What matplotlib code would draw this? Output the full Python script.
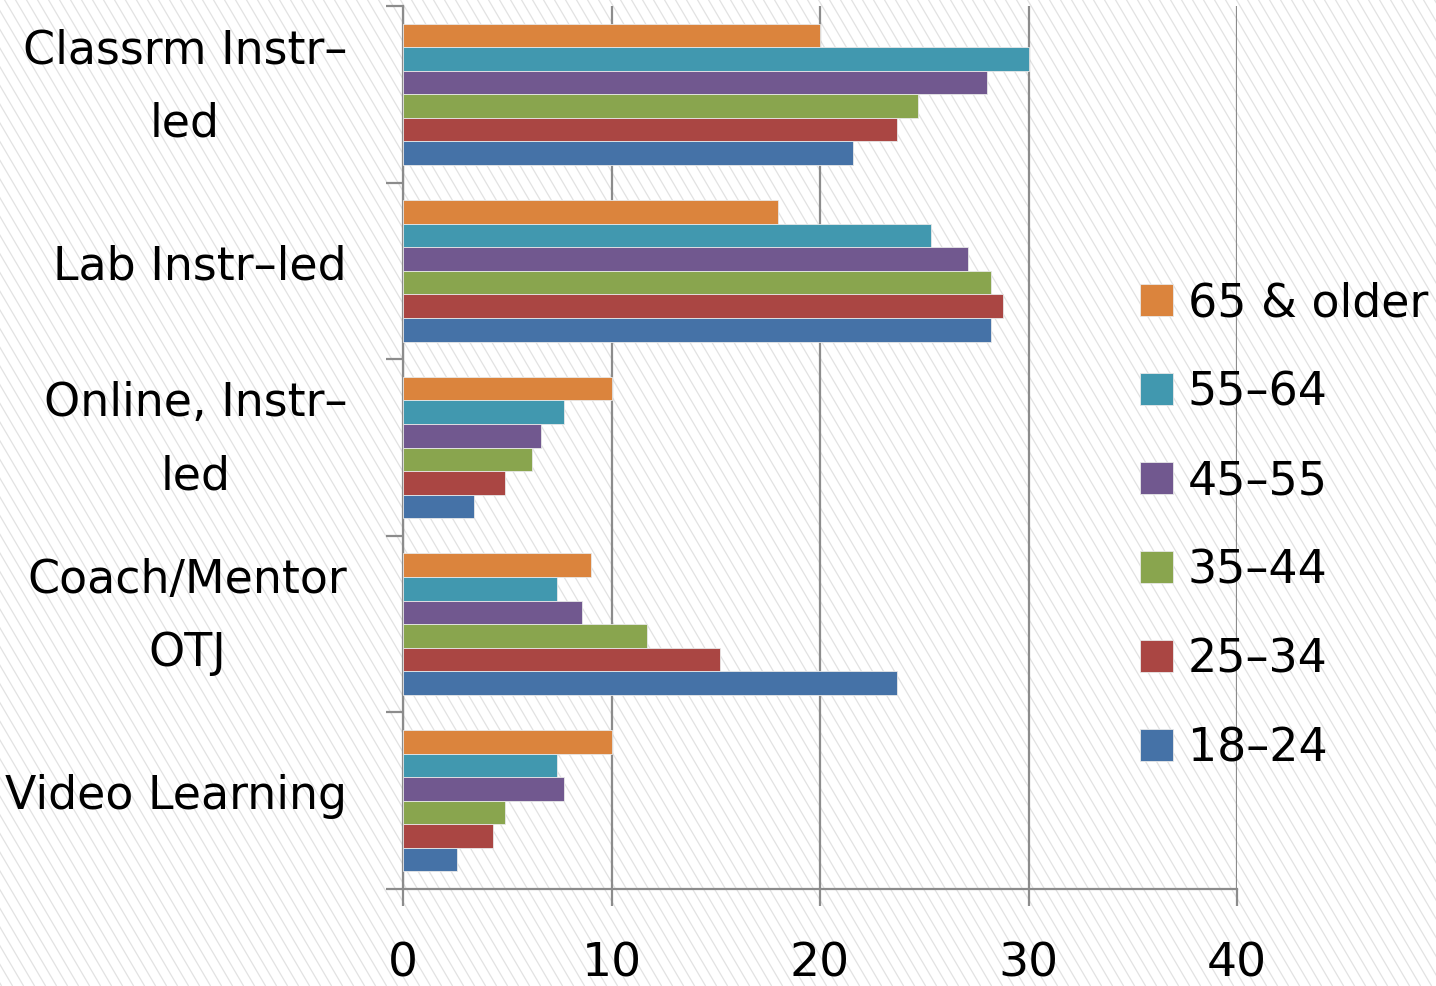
import numpy as np
import matplotlib
matplotlib.use("Agg")
import matplotlib.pyplot as plt
import matplotlib.transforms as mtransforms
from matplotlib.collections import LineCollection

categories = ["Classrm Instr–\nled", "Lab Instr–led", "Online, Instr–\nled",
              "Coach/Mentor\nOTJ", "Video Learning"]
series = ["65 & older", "55–64", "45–55", "35–44", "25–34", "18–24"]
values = {
    "65 & older": [20.0, 18.0, 10.0, 9.0, 10.0],
    "55–64": [30.0, 25.3, 7.7, 7.4, 7.4],
    "45–55": [28.0, 27.1, 6.6, 8.6, 7.7],
    "35–44": [24.7, 28.2, 6.2, 11.7, 4.9],
    "25–34": [23.7, 28.8, 4.9, 15.2, 4.3],
    "18–24": [21.6, 28.2, 3.4, 23.7, 2.6],
}
colors = ["#DB843D", "#4198AF", "#71588F", "#89A54E", "#AA4643", "#4572A7"]
xticks = [0, 10, 20, 30, 40]

W, H = 1436, 987
fig = plt.figure(figsize=(W / 100, H / 100), dpi=100)

# striped background
bg = fig.add_axes([0, 0, 1, 1], zorder=-10)
bg.set_xlim(0, W)
bg.set_ylim(H, 0)
bg.axis("off")
slope = 1.7
segs = [[(x0, 0), (x0 + H / slope, H)] for x0 in np.arange(-700, W + 12, 11)]
bg.add_collection(LineCollection(segs, colors="#e2e2e2", linewidths=0.9))

grey = "#8c8c8c"
ax = fig.add_axes([403 / W, 1 - 890 / H, (1237 - 403) / W, (890 - 7) / H])
ax.set_facecolor("none")

n = len(series)
h = 0.8 / n
y = np.arange(len(categories))
for i, (s, c) in enumerate(zip(series, colors)):
    ax.barh(y + (i - (n - 1) / 2) * h, values[s], height=h, color=c,
            edgecolor="#e8e8e8", linewidth=0.6, label=s, zorder=3)

ax.set_xlim(0, 40)
ax.set_ylim(len(categories) - 0.5, -0.5)
ax.set_xticks(xticks)
ax.set_xticklabels([str(t) for t in xticks])
ax.set_yticks(y)
ax.set_yticklabels([])
ax.set_yticks(np.arange(len(categories) + 1) - 0.5, minor=True)

# category labels, drawn as text so they can sit a little high like the original
for yi, cat in zip(y, categories):
    dy = 8 if "\n" in cat else 5
    off = mtransforms.ScaledTranslation(-56 / 100, dy / 100, fig.dpi_scale_trans)
    ax.text(0, yi, cat, transform=ax.get_yaxis_transform() + off,
            ha="right", va="center", multialignment="center",
            linespacing=1.8, fontsize=33)

ax.grid(axis="x", color=grey, linewidth=1.6, zorder=1)
for side in ["top", "right"]:
    ax.spines[side].set_visible(False)
for side in ["left", "bottom"]:
    ax.spines[side].set_color(grey)
    ax.spines[side].set_linewidth(1.6)

ax.tick_params(axis="x", length=12, width=1.6, color=grey, pad=25,
               labelsize=34)
ax.tick_params(axis="y", which="major", length=0)
ax.tick_params(axis="y", which="minor", length=12, width=1.6, color=grey)

fig.legend(loc="center left", bbox_to_anchor=(1140 / W, 1 - 527 / H),
           frameon=False, fontsize=33, handlelength=0.72, handleheight=0.72,
           handletextpad=0.32, labelspacing=0.96, borderaxespad=0,
           borderpad=0)

fig.savefig("out.png", dpi=100)
